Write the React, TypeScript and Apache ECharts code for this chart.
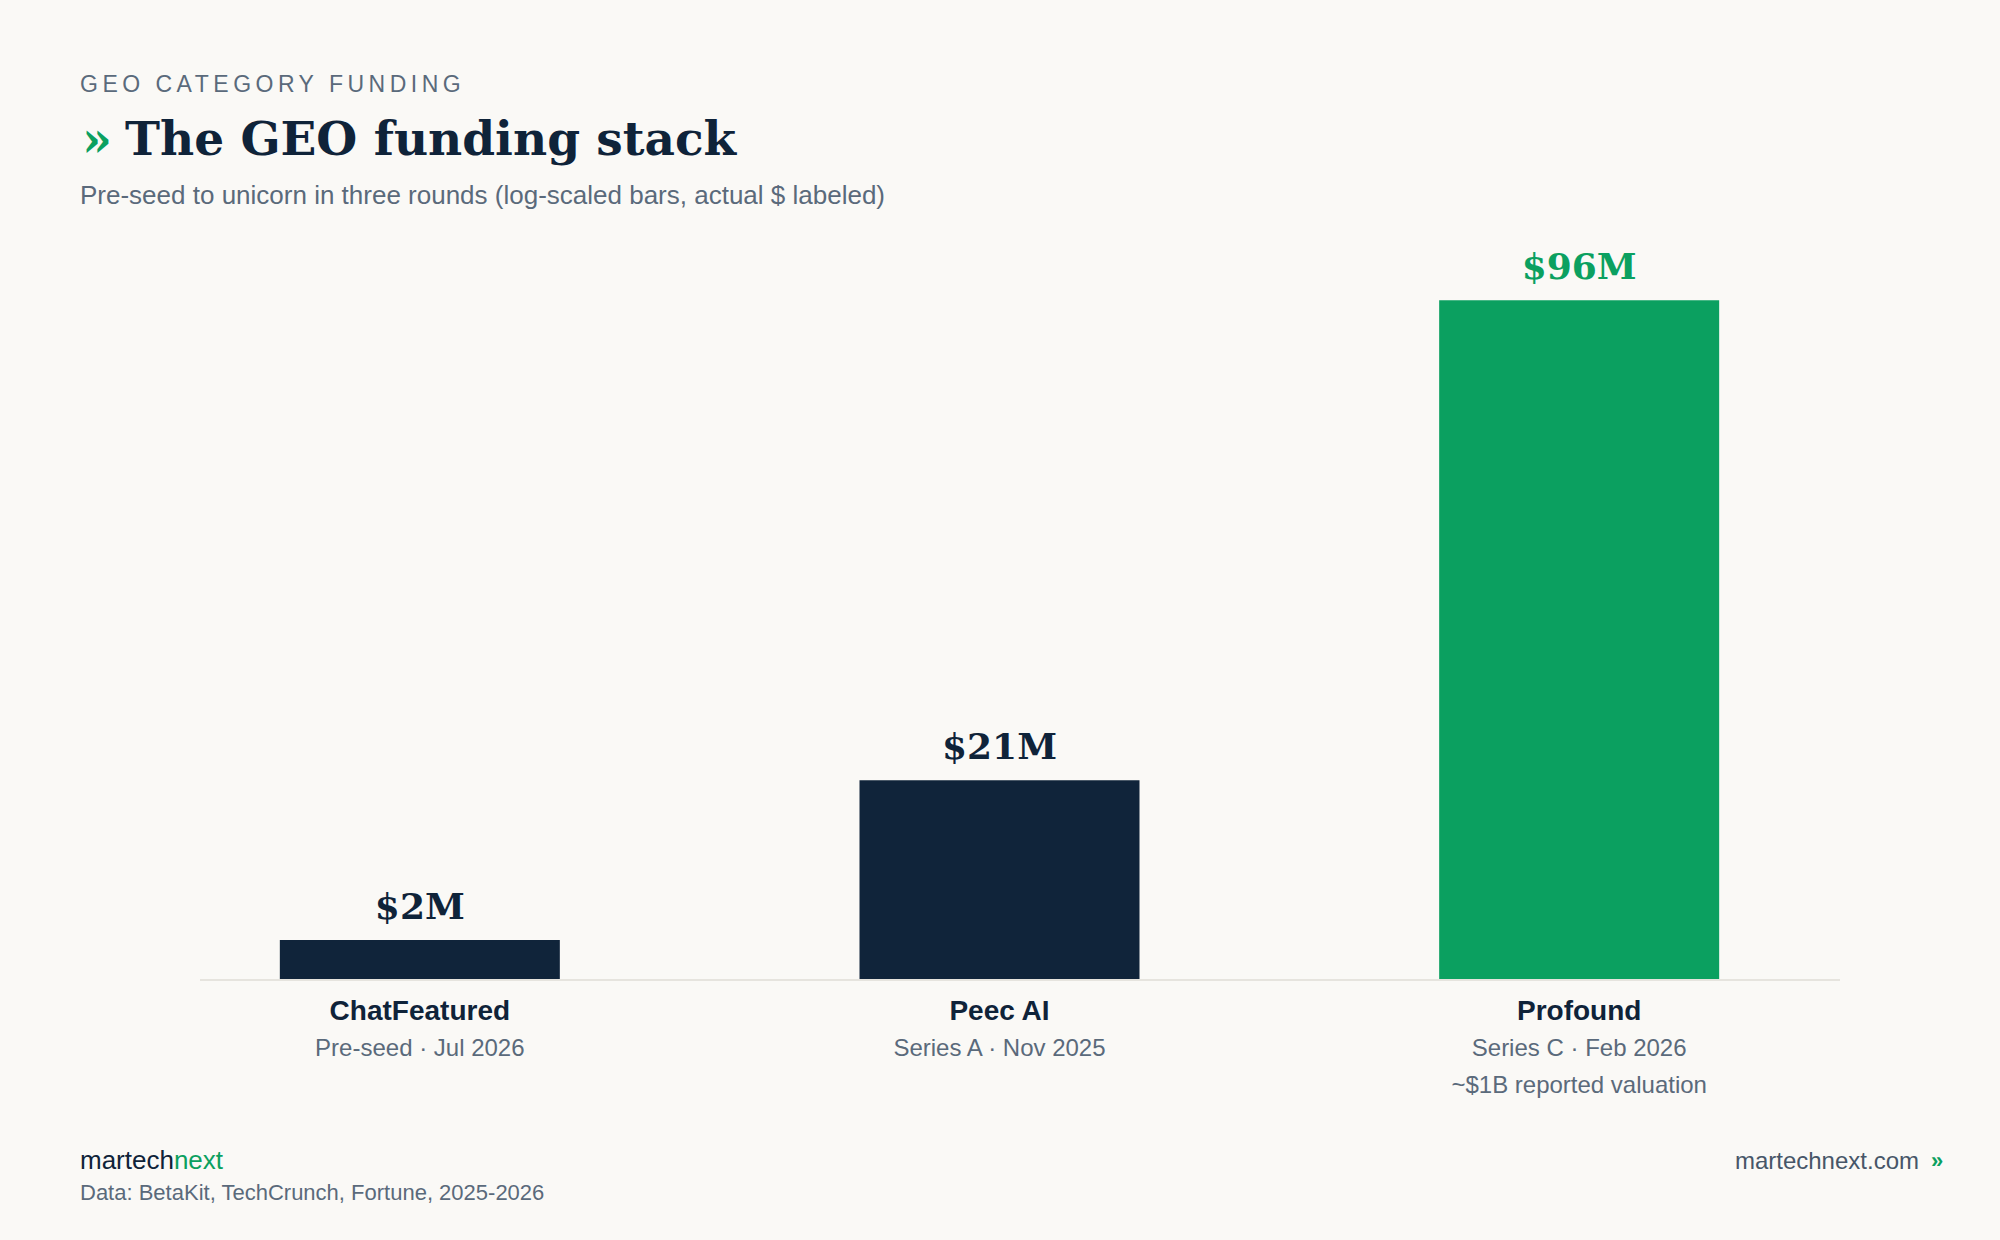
import React, { useEffect, useRef } from 'react'
import * as echarts from 'echarts'

const companies = ['ChatFeatured', 'Peec AI', 'Profound']
const rounds = ['Pre-seed · Jul 2026', 'Series A · Nov 2025', 'Series C · Feb 2026']
const notes = ['', '', '~$1B reported valuation']
const fundingLabels = ['$2M', '$21M', '$96M']
// bar lengths as drawn on the (compressed) scale
const barScale = [5.65, 28.2, 96]
const barColors = ['#10243a', '#10243a', '#0ba060']

const NAVY = '#0f2339'
const GREEN = '#0ba060'
const GRAY = '#5a6a7b'
const BG = '#faf9f6'
const SANS = "'Liberation Sans', Arial, Helvetica, sans-serif"
const SERIF = "'DejaVu Serif', Georgia, serif"
const EYEBROW = 'GEO CATEGORY FUNDING'

const App: React.FC = () => {
  const chartRef = useRef<HTMLDivElement>(null)

  useEffect(() => {
    if (!chartRef.current) return
    const chart = echarts.init(chartRef.current, null, { renderer: 'svg' })

    const option = {
      animation: false,
      backgroundColor: BG,
      grid: { left: 130, right: 131, top: 272, bottom: 260 },
      xAxis: {
        type: 'category',
        data: companies,
        axisLine: { show: false },
        axisTick: { show: false },
        axisLabel: {
          margin: 12,
          interval: 0,
          formatter: (value: string, idx: number) => {
            let s = `{name|${value}}\n{sub|${rounds[idx]}}`
            if (notes[idx]) s += `\n{sub|${notes[idx]}}`
            return s
          },
          rich: {
            name: { fontFamily: SANS, fontSize: 28, fontWeight: 'bold', color: NAVY, lineHeight: 37 },
            sub: { fontFamily: SANS, fontSize: 24, color: GRAY, lineHeight: 37 }
          }
        }
      },
      yAxis: {
        type: 'value',
        min: 0,
        max: 100,
        show: false,
        splitLine: { show: false }
      },
      series: [
        {
          type: 'bar',
          barWidth: 280,
          data: barScale.map((v, i) => ({
            value: v,
            itemStyle: { color: barColors[i] },
            label: { color: barColors[i] === GREEN ? GREEN : NAVY }
          })),
          label: {
            show: true,
            position: 'top',
            distance: 16,
            fontFamily: SERIF,
            fontSize: 36,
            fontWeight: 'bold',
            formatter: (p: any) => fundingLabels[p.dataIndex]
          }
        }
      ],
      graphic: [
        {
          type: 'text',
          left: 80,
          top: 72,
          style: { text: EYEBROW, fontFamily: SANS, fontSize: 23, fill: GRAY }
        },
        {
          type: 'text',
          x: 82,
          y: 139,
          style: { text: '»', fontFamily: SERIF, fontSize: 48, fontWeight: 'bold', fill: GREEN, verticalAlign: 'middle' }
        },
        {
          type: 'text',
          x: 125,
          y: 138,
          style: { text: 'The GEO funding stack', fontFamily: SERIF, fontSize: 47, fontWeight: 'bold', fill: NAVY, verticalAlign: 'middle' }
        },
        {
          type: 'text',
          x: 80,
          y: 195,
          style: {
            text: 'Pre-seed to unicorn in three rounds (log-scaled bars, actual $ labeled)',
            fontFamily: SANS, fontSize: 26, fill: GRAY, verticalAlign: 'middle'
          }
        },
        {
          type: 'line',
          shape: { x1: 200, y1: 980, x2: 1840, y2: 980 },
          style: { stroke: '#e6e4de', lineWidth: 2 },
          z: 10
        },
        {
          type: 'text',
          x: 80,
          y: 1160,
          style: {
            text: '{a|martech}{b|next}',
            verticalAlign: 'middle',
            rich: {
              a: { fontFamily: SANS, fontSize: 26, fill: NAVY, color: NAVY },
              b: { fontFamily: SANS, fontSize: 26, fill: GREEN, color: GREEN }
            }
          }
        },
        {
          type: 'text',
          x: 80,
          y: 1192,
          style: {
            text: 'Data: BetaKit, TechCrunch, Fortune, 2025-2026',
            fontFamily: SANS, fontSize: 22, fill: GRAY, verticalAlign: 'middle'
          }
        },
        {
          type: 'text',
          x: 1919,
          y: 1160,
          style: {
            text: 'martechnext.com',
            fontFamily: SANS, fontSize: 24, fill: '#475668', align: 'right', verticalAlign: 'middle'
          }
        },
        {
          type: 'text',
          x: 1931,
          y: 1160,
          style: { text: '»', fontFamily: SANS, fontSize: 22, fontWeight: 'bold', fill: GREEN, verticalAlign: 'middle' }
        }
      ]
    }

    chart.setOption(option)

    // zrender has no letter-spacing, so add it to the eyebrow in the svg
    chartRef.current.querySelectorAll('text').forEach((t) => {
      if (t.textContent === EYEBROW) t.setAttribute('letter-spacing', '4.5')
    })

    return () => {
      chart.dispose()
    }
  }, [])

  return (
    <div
      ref={chartRef}
      style={{ position: 'fixed', left: 0, top: 0, width: 2000, height: 1240, background: BG }}
    />
  )
}

export default App
